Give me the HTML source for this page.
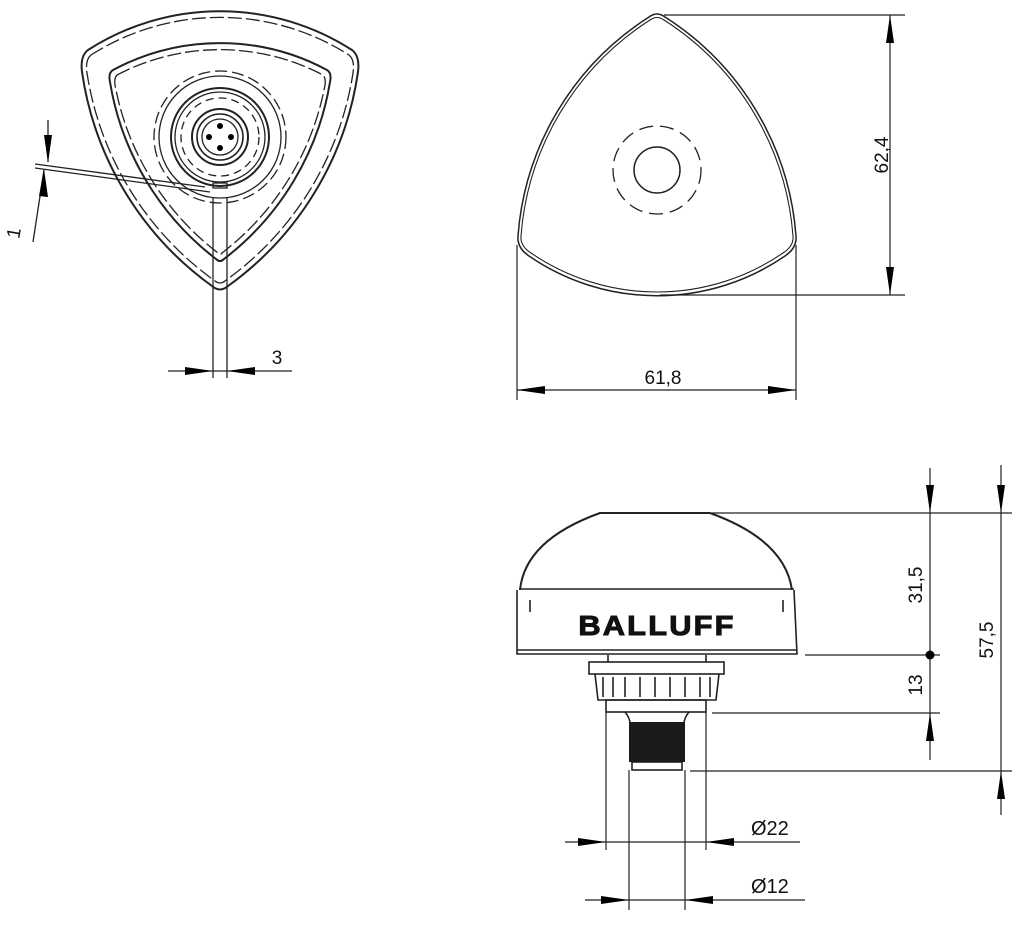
<!DOCTYPE html>
<html><head><meta charset="utf-8"><style>
html,body{margin:0;padding:0;background:#fff;}
svg{display:block;}
text{font-family:"Liberation Sans","DejaVu Sans",sans-serif;fill:#111;}
</style></head><body>
<svg width="1024" height="925" viewBox="0 0 1024 925" xmlns="http://www.w3.org/2000/svg">
<g fill="none" stroke="#222" stroke-width="1.3">
<!-- top-left view -->
<path d="M88,50 A244,244 0 0 1 352,50 Q360,56 358,72 A320,320 0 0 1 228,286 Q220,293 212,286 A320,320 0 0 1 82,72 Q80,56 88,50 Z" stroke-width="2"/>
<path d="M91,55 A240,240 0 0 1 349,55 Q355,60 353,73 A315,315 0 0 1 225,281 Q220,285 215,281 A315,315 0 0 1 87,73 Q85,60 91,55 Z" stroke-dasharray="14,4"/>
<path d="M113,70 A226,226 0 0 1 327,70 Q332,73 330,82 A280,280 0 0 1 224,259 Q220,263 216,259 A280,280 0 0 1 110,82 Q108,73 113,70 Z" stroke-width="2"/>
<path d="M117,75 A222,222 0 0 1 323,75 Q326,78 325,85 A275,275 0 0 1 222,253 Q220,256 218,253 A275,275 0 0 1 115,85 Q114,78 117,75 Z" stroke-dasharray="14,4"/>
<circle cx="220" cy="137" r="66" stroke-dasharray="12,5"/>
<circle cx="220" cy="137" r="61"/>
<circle cx="220" cy="137" r="49" stroke-width="2"/>
<circle cx="220" cy="137" r="45"/>
<circle cx="220" cy="137" r="39" stroke-dasharray="8,5"/>
<circle cx="220" cy="137" r="28" stroke-width="2"/>
<circle cx="220" cy="137" r="23" stroke-width="1.6"/>
<circle cx="220" cy="137" r="18"/>
<rect x="213" y="183" width="14" height="5"/>
<path d="M213,198 V378 M227,198 V378"/>
<path d="M35,164 L205,187 M35,168 L210,192"/>
<path d="M48,120 V162 M33,242 L44,170" />
<path d="M168,371 H292"/>
</g>
<g fill="#000">
<circle cx="220" cy="126" r="3"/><circle cx="220" cy="148" r="3"/><circle cx="209" cy="137" r="3"/><circle cx="231" cy="137" r="3"/>
<path d="M44,135 L48,163 L52,135Z"/><path d="M39,196 L44,169 L48,197Z"/>
<path d="M185,367 L213,371 L185,375Z"/><path d="M255,367 L227,371 L255,375Z"/>
</g>
<text x="20" y="234" font-size="19" transform="rotate(-80 20 234)" text-anchor="middle">1</text>
<text x="277" y="364" font-size="19" text-anchor="middle">3</text>

<!-- top-right view -->
<g fill="none" stroke="#222" stroke-width="1.5">
<path d="M649,17 Q657,11 665,17 A285,285 0 0 1 796,236 Q797,248 785,256 A226,226 0 0 1 529,256 Q517,248 518,236 A285,285 0 0 1 649,17 Z"/>
<path d="M650,20 Q657,15 664,20 A282,282 0 0 1 793,236 Q794,246 783,253 A223,223 0 0 1 531,253 Q520,246 521,236 A282,282 0 0 1 650,20 Z" stroke-width="1.1"/>
<circle cx="657" cy="170" r="23"/>
<circle cx="657" cy="170" r="44" stroke-dasharray="14,7" stroke-width="1.3"/>
</g>
<g fill="none" stroke="#222" stroke-width="1.2">
<path d="M664,15 H905 M660,295 H905 M890,15 V295"/>
<path d="M517,245 V400 M796,245 V400 M517,390 H796"/>
</g>
<g fill="#000">
<path d="M886,43 L890,15 L894,43Z"/>
<path d="M886,267 L890,295 L894,267Z"/>
<path d="M545,386 L517,390 L545,394Z"/><path d="M768,386 L796,390 L768,394Z"/>
</g>
<text x="888" y="155" font-size="19" transform="rotate(-90 888 155)" text-anchor="middle">62,4</text>
<text x="663" y="384" font-size="19" text-anchor="middle">61,8</text>

<!-- bottom-right view -->
<g fill="none" stroke="#222" stroke-width="1.6">
<path d="M520,590 Q525,540 600,513 H710 Q785,540 792,590" stroke-width="2"/>
<path d="M519,589 H794 M517,590 L517,654 H797 L794,590"/>
<path d="M517,650 H797"/>
<path d="M530,600 V612 M783,600 V612"/>
<path d="M608,655 V662 M706,655 V662"/>
<rect x="589" y="662" width="135" height="12"/>
<path d="M595,674 L598,700 H716 L719,674"/>
<path d="M603,677 V697 M613,677 V697 M625,677 V697 M640,677 V697 M655,677 V697 M670,677 V697 M685,677 V697 M700,677 V697 M710,677 V697"/>
<rect x="606" y="700" width="100" height="12"/>
<path d="M625,712 Q630,718 630,724 M689,712 Q684,718 684,724"/>
<rect x="632" y="762" width="50" height="8"/>
</g>
<rect x="629" y="722" width="56" height="40" fill="#1a1a1a"/>
<text x="657" y="635" font-size="28" font-weight="900" text-anchor="middle" letter-spacing="2" fill="#111" stroke="#111" stroke-width="1" transform="translate(657 0) scale(1.1 1) translate(-657 0)">BALLUFF</text>
<g fill="none" stroke="#222" stroke-width="1.2">
<path d="M606,712 V850 M706,712 V850 M629,770 V910 M685,770 V910"/>
<path d="M712,513 H1012 M805,655 H940 M712,713 H940 M690,771 H1012"/>
<path d="M930,468 V760 M1001,465 V815"/>
<path d="M565,842 H800 M585,900 H805"/>
</g>
<g fill="#000">
<path d="M926,485 L930,513 L934,485Z"/>
<path d="M926,741 L930,713 L934,741Z"/>
<circle cx="930" cy="655" r="4.5"/>
<path d="M997,485 L1001,513 L1005,485Z"/>
<path d="M997,799 L1001,771 L1005,799Z"/>
<path d="M578,838 L606,842 L578,846Z"/><path d="M734,838 L706,842 L734,846Z"/>
<path d="M601,896 L629,900 L601,904Z"/><path d="M713,896 L685,900 L713,904Z"/>
</g>
<text x="922" y="585" font-size="19" transform="rotate(-90 922 585)" text-anchor="middle">31,5</text>
<text x="922" y="685" font-size="19" transform="rotate(-90 922 685)" text-anchor="middle">13</text>
<text x="993" y="640" font-size="19" transform="rotate(-90 993 640)" text-anchor="middle">57,5</text>
<text x="751" y="835" font-size="20">Ø22</text>
<text x="751" y="893" font-size="20">Ø12</text>
</svg>
</body></html>
